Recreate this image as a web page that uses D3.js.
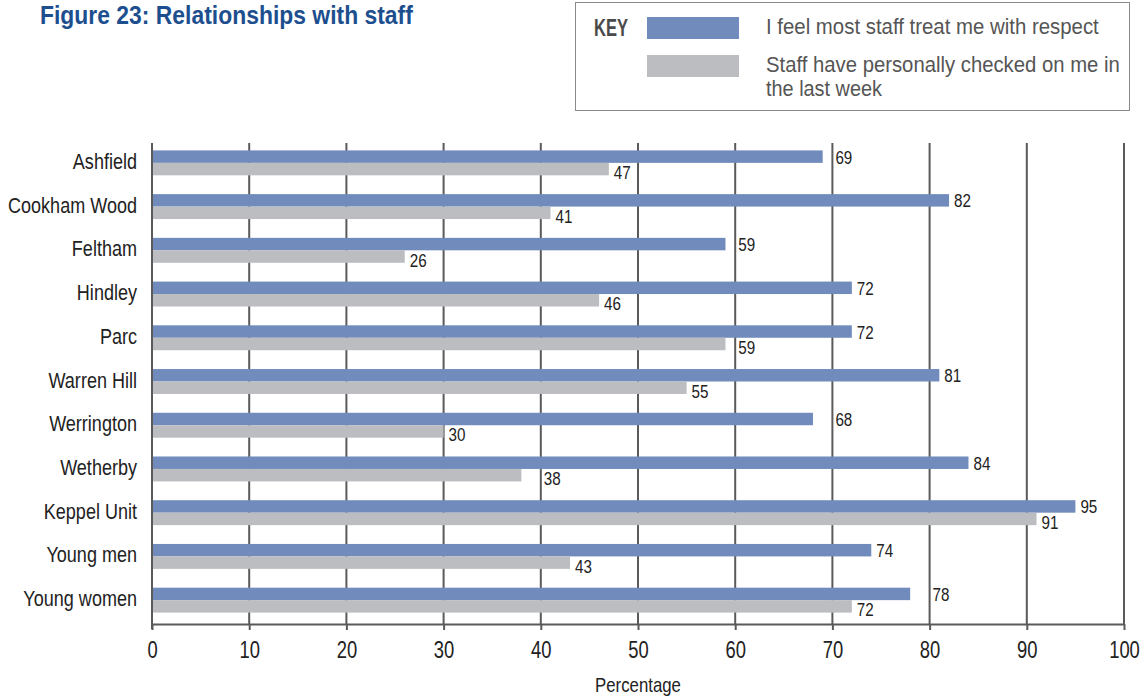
<!DOCTYPE html>
<html>
<head>
<meta charset="utf-8">
<script src="https://cdn.jsdelivr.net/npm/d3@7"></script>
<style>
  html, body { margin: 0; padding: 0; background: #fff; }
  svg { display: block; }
  text { font-family: "Liberation Sans", Arial, sans-serif; }
</style>
</head>
<body>
<svg id="chart" width="1147" height="699"></svg>
<script>
const categories = ["Ashfield", "Cookham Wood", "Feltham", "Hindley", "Parc", "Warren Hill",
  "Werrington", "Wetherby", "Keppel Unit", "Young men", "Young women"];
const respect = [69, 82, 59, 72, 72, 81, 68, 84, 95, 74, 78];
const checked = [47, 41, 26, 46, 59, 55, 30, 38, 91, 43, 72];
const seriesNames = ["I feel most staff treat me with respect", "Staff have personally checked on me in the last week"];
const xTicks = [0, 10, 20, 30, 40, 50, 60, 70, 80, 90, 100];
const titleText = "Figure 23: Relationships with staff";
const xLabel = "Percentage";

(function () {
const colors = ["#728bbd", "#bcbdc1"];
const svg = d3.select("#chart");

// horizontally condense a text element about its anchor point
function condense(sel, f) {
  sel.each(function () {
    const t = d3.select(this);
    const tx = +t.attr("x") || 0, ty = +t.attr("y") || 0;
    t.attr("x", 0).attr("y", 0).attr("transform", `translate(${tx},${ty}) scale(${f},1)`);
  });
}
function fitWidth(sel, w) {
  const len = sel.node().getComputedTextLength();
  condense(sel, w / len);
}

const pL = 152, pR = 1124, pT = 143, pB = 624;
const x = d3.scaleLinear().domain([0, 100]).range([pL, pR]);
const y = d3.scaleBand().domain(categories).range([pT - 2, pB - 2]).paddingInner(0.43).paddingOuter(0.215);
const sub = d3.scaleBand().domain([0, 1]).range([0, y.bandwidth()]);

// Title
const title = svg.append("text").attr("x", 40).attr("y", 24)
  .attr("font-size", 25).attr("font-weight", "bold").attr("fill", "#1d4f8f")
  .text(titleText);
fitWidth(title, 373);

// Legend box
const key = svg.append("g");
key.append("rect").attr("x", 575.5).attr("y", 2.5).attr("width", 554).attr("height", 108)
  .attr("fill", "#fff").attr("stroke", "#8a8a8a").attr("stroke-width", 1);
const keyT = key.append("text").attr("x", 594).attr("y", 36).attr("font-size", 23).attr("font-weight", "bold")
  .attr("fill", "#4a4a4a").text("KEY");
fitWidth(keyT, 34);
key.append("rect").attr("x", 647).attr("y", 17).attr("width", 92).attr("height", 22).attr("fill", colors[0]);
key.append("rect").attr("x", 647).attr("y", 55).attr("width", 92).attr("height", 22).attr("fill", colors[1]);
const l1 = key.append("text").attr("x", 766).attr("y", 34).attr("font-size", 22).attr("fill", "#555")
  .text(seriesNames[0]);
fitWidth(l1, 333);
const words = seriesNames[1].split(" ");
const l2 = key.append("text").attr("x", 766).attr("y", 72).attr("font-size", 22).attr("fill", "#555")
  .text(words.slice(0, 7).join(" "));
fitWidth(l2, 354);
const l3 = key.append("text").attr("x", 766).attr("y", 96).attr("font-size", 22).attr("fill", "#555")
  .text(words.slice(7).join(" "));
fitWidth(l3, 116);

// Gridlines
svg.append("g").selectAll("line").data(xTicks.slice(1)).join("line")
  .attr("x1", d => x(d)).attr("x2", d => x(d))
  .attr("y1", pT).attr("y2", pB)
  .attr("stroke", "#5a5a5a").attr("stroke-width", 2);

// Bars
const groups = svg.append("g").selectAll("g").data(categories).join("g")
  .attr("transform", d => `translate(0,${y(d)})`);
const allSeries = [respect, checked];
allSeries.forEach((vals, si) => {
  groups.append("rect")
    .attr("x", x(0))
    .attr("y", sub(si))
    .attr("width", (d, i) => x(vals[i]) - x(0))
    .attr("height", sub.bandwidth())
    .attr("fill", colors[si]);
});

// Value labels (shifted past gridlines when overlapping)
const labelW = 18;
allSeries.forEach((vals, si) => {
  const lab = groups.append("text")
    .attr("x", (d, i) => {
      const end = x(vals[i]);
      let lx = end + 5;
      for (const t of xTicks) {
        const gx = x(t);
        if (gx > end + 1 && gx >= lx - 1 && gx <= lx + labelW) { lx = gx + 3; }
      }
      return lx;
    })
    .attr("y", sub(si) + sub.bandwidth() / 2 + (si === 0 ? 7 : 10))
    .attr("font-size", 19).attr("fill", "#222")
    .text((d, i) => vals[i]);
  condense(lab, 0.8);
});

// Left axis line
svg.append("line").attr("x1", pL).attr("x2", pL).attr("y1", pT).attr("y2", pB + 5)
  .attr("stroke", "#5a5a5a").attr("stroke-width", 2);

// Category labels
const cats = svg.append("g").selectAll("text").data(categories).join("text")
  .attr("x", 137).attr("y", d => y(d) + y.bandwidth() / 2 + 6)
  .attr("text-anchor", "end").attr("font-size", 22).attr("fill", "#222")
  .text(d => d);
condense(cats, 0.82);

// Bottom axis
const xAxis = d3.axisBottom(x).tickValues(xTicks).tickSize(6).tickPadding(12).tickFormat(d3.format("d"));
const ax = svg.append("g").attr("transform", `translate(0,${pB})`).call(xAxis);
ax.select(".domain").attr("stroke", "#5a5a5a").attr("stroke-width", 2).attr("d", `M${pL},0.5H${pR}`);
ax.selectAll(".tick line").attr("stroke", "#5a5a5a").attr("stroke-width", 2);
ax.selectAll(".tick text").attr("font-size", 23).attr("fill", "#222")
  .attr("font-family", "Liberation Sans, Arial, sans-serif")
  .attr("transform", "scale(0.8,1)");

const xl = svg.append("text").attr("x", x(50)).attr("y", 692).attr("text-anchor", "middle")
  .attr("font-size", 20).attr("fill", "#222").text(xLabel);
condense(xl, 0.84);
})();
</script>
</body>
</html>
